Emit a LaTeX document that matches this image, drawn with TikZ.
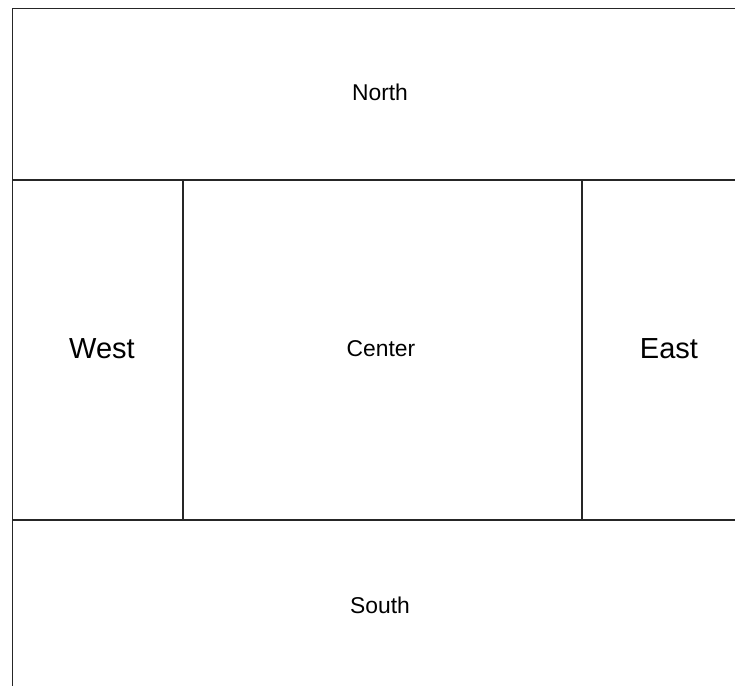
\documentclass[tikz,border=0pt]{standalone}
\usepackage{fontspec}
\setmainfont{Liberation Sans}
\begin{document}
\begin{tikzpicture}[x=0.02cm,y=-0.02cm,
    frame/.style={draw=black!85,line width=1.1pt},
    label/.style={font=\fontsize{13}{15}\selectfont},
    biglabel/.style={font=\fontsize{16.5}{19}\selectfont}]
  \useasboundingbox (0,0) rectangle (735,686);
  \clip (0,0) rectangle (735,686);
  % North region
  \draw[frame] (12.5,8.5) rectangle (745,180);
  \node[label] (north) at (380,92) {North};
  % middle row: West, Center, East
  \draw[frame] (12.5,180) rectangle (183,520);
  \draw[frame] (183,180) rectangle (582,520);
  \draw[frame] (582,180) rectangle (745,520);
  \node[biglabel] (west) at (102,349) {West};
  \node[label] (center) at (381,349) {Center};
  \node[biglabel] (east) at (669,349) {East};
  % South region
  \draw[frame] (12.5,520) rectangle (745,700);
  \node[label] (south) at (380,605) {South};
\end{tikzpicture}
\end{document}
